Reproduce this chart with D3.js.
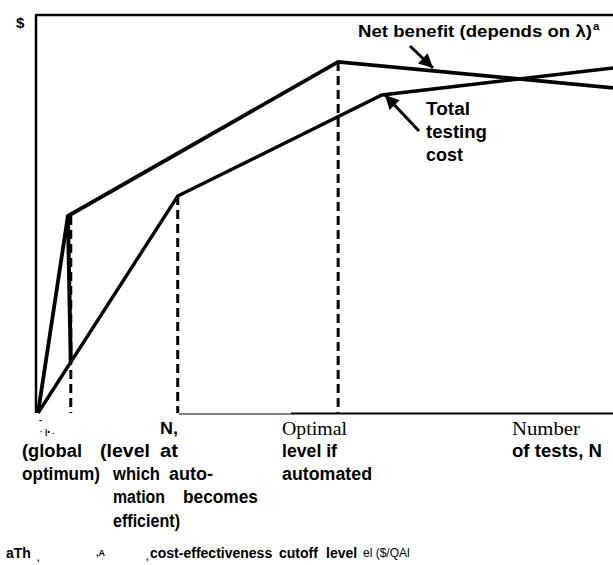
<!DOCTYPE html>
<html>
<head>
<meta charset="utf-8">
<script src="https://cdn.jsdelivr.net/npm/d3@7"></script>
<style>
  body { margin: 0; background: #fff; }
  .lab { font-family: "Liberation Sans", Arial, sans-serif; font-weight: bold; fill: #000; }
  .ser { font-family: "Liberation Serif", "Times New Roman", serif; fill: #000; }
</style>
</head>
<body>
<div id="chart"></div>
<script>
let svgWidth = 613;
let svgHeight = 565;

// curves, N in % of the axis, $ in % of the axis
let netN = [0, 5.2, 52.2, 100];
let netCost = [0, 49.5, 88.2, 81.7];
let dropN = [5.2, 5.7];
let dropCost = [49.5, 12.8];
let totalN = [0, 24.3, 59.8, 100];
let totalCost = [0, 54.5, 79.9, 86.7];

// dashed markers
let markN = [5.7, 24.3, 52.2];
let markTop = [49.5, 54.5, 88.2];

let svg = d3.select("#chart")
  .append("svg")
  .attr("width", svgWidth)
  .attr("height", svgHeight);

let x = d3.scaleLinear().domain([0, 100]).range([38, 613]);
let y = d3.scaleLinear().domain([0, 100]).range([413, 15]);

let line = d3.line().x(d => x(d[0])).y(d => y(d[1]));

// frame
svg.append("line")
  .attr("x1", x(0) - 2).attr("x2", x(0) - 2)
  .attr("y1", y(100)).attr("y2", y(0))
  .attr("stroke", "#000").attr("stroke-width", 2.5);
svg.append("line")
  .attr("x1", x(0) - 3).attr("x2", x(100))
  .attr("y1", y(100)).attr("y2", y(100))
  .attr("stroke", "#000").attr("stroke-width", 2.5);
svg.append("line")
  .attr("x1", x(24.5)).attr("x2", x(44))
  .attr("y1", y(0) + 1).attr("y2", y(0) + 1)
  .attr("stroke", "#000").attr("stroke-width", 1);
svg.append("line")
  .attr("x1", x(44)).attr("x2", x(100))
  .attr("y1", y(0) + 0.5).attr("y2", y(0) + 0.5)
  .attr("stroke", "#000").attr("stroke-width", 2.2);

// dashed verticals
svg.selectAll(".mark")
  .data(markN)
  .enter()
  .append("line")
  .attr("class", "mark")
  .attr("x1", d => x(d)).attr("x2", d => x(d))
  .attr("y1", (d, i) => y(markTop[i]))
  .attr("y2", y(0))
  .attr("stroke", "#000")
  .attr("stroke-width", 3)
  .attr("stroke-dasharray", "9,5");

// curves
svg.append("path")
  .attr("d", line(netN.map((n, i) => [n, netCost[i]])))
  .attr("fill", "none").attr("stroke", "#000")
  .attr("stroke-width", 3.8).attr("stroke-linejoin", "miter");
svg.append("path")
  .attr("d", line(dropN.map((n, i) => [n, dropCost[i]])))
  .attr("fill", "none").attr("stroke", "#000")
  .attr("stroke-width", 4);
svg.append("path")
  .attr("d", line(totalN.map((n, i) => [n, totalCost[i]])))
  .attr("fill", "none").attr("stroke", "#000")
  .attr("stroke-width", 3.4).attr("stroke-linejoin", "miter");

// arrows
svg.append("defs").append("marker")
  .attr("id", "head")
  .attr("viewBox", "0 0 10 10")
  .attr("refX", 10).attr("refY", 5)
  .attr("markerUnits", "userSpaceOnUse")
  .attr("markerWidth", 16).attr("markerHeight", 14)
  .attr("orient", "auto")
  .append("path")
  .attr("d", "M0,0 L10,5 L0,10 Z")
  .attr("fill", "#000");

svg.append("line")
  .attr("x1", 410).attr("y1", 46).attr("x2", 433).attr("y2", 68)
  .attr("stroke", "#000").attr("stroke-width", 3)
  .attr("marker-end", "url(#head)");
svg.append("line")
  .attr("x1", 419).attr("y1", 131).attr("x2", 385).attr("y2", 95)
  .attr("stroke", "#000").attr("stroke-width", 3)
  .attr("marker-end", "url(#head)");

// texts
function lab(t, x0, x1, yb, size, cls) {
  let el = svg.append("text")
    .attr("class", cls || "lab")
    .attr("x", x0).attr("y", yb)
    .style("font-size", size + "px")
    .text(t);
  if (x1) el.attr("textLength", x1 - x0).attr("lengthAdjust", "spacingAndGlyphs");
  return el;
}

lab("$", 16, null, 28, 15);

lab("Net benefit (depends on λ)", 358, 592, 37, 17);
lab("a", 593, null, 30, 11.5);

lab("Total", 426, 470, 115, 17.5);
lab("testing", 426, 487, 138, 17.5);
lab("cost", 426, 463, 161, 17.5);

// garbled marks under the origin
lab("-", 39, null, 423, 9);
lab("· |• .", 40, null, 434, 8);

lab("N,", 160, 178, 434, 17);

// left block, word by word
lab("(global", 22, 82, 457, 17.5);
lab("(level", 100, 150, 457, 17.5);
lab("at", 160, 178, 457, 17.5);
lab("optimum)", 22, 100, 480, 17.5);
lab("which", 113, 160, 480, 17.5);
lab("auto-", 169, 213, 480, 17.5);
lab("mation", 113, 165, 503, 17.5);
lab("becomes", 183, 258, 503, 17.5);
lab("efficient)", 113, 180, 527, 17.5);

lab("Optimal", 282, 347, 435, 19.5, "ser");
lab("level if", 282, 337, 457, 17.5);
lab("automated", 282, 372, 480, 17.5);

lab("Number", 512, 580, 435, 19.5, "ser");
lab("of tests, N", 512, 602, 457, 17.5);

// footnote
lab("aTh", 6, null, 558, 14);
lab(",", 37, null, 561, 9);
lab(",A", 96, null, 556, 9);
lab(",", 146, null, 560, 9);
lab("cost-effectiveness", 150, null, 558, 14);
lab("cutoff", 279, null, 558, 14);
lab("level", 326, null, 558, 14);
svg.append("text")
  .attr("class", "lab")
  .attr("x", 363).attr("y", 557)
  .style("font-size", "12px")
  .style("font-weight", "normal")
  .text("el ($/QAl");
</script>
</body>
</html>
